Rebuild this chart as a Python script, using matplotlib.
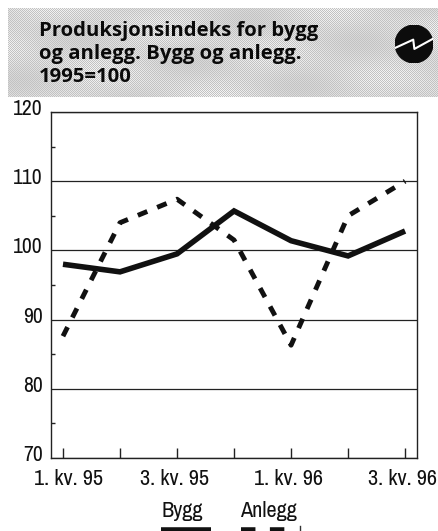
import numpy as np
import matplotlib
matplotlib.use("Agg")
import matplotlib.pyplot as plt
from matplotlib.lines import Line2D
from matplotlib.patches import Circle
from matplotlib.transforms import ScaledTranslation
from matplotlib import font_manager as fm

quarters = ["1. kv. 95", "2. kv. 95", "3. kv. 95", "4. kv. 95", "1. kv. 96", "2. kv. 96", "3. kv. 96"]
bygg = [98.0, 96.9, 99.5, 105.7, 101.4, 99.2, 102.8]
anlegg = [87.6, 104.0, 107.4, 101.5, 86.3, 105.0, 110.0]
y_ticks = [70, 80, 90, 100, 110, 120]
y_minor = [75, 85, 95, 105, 115]
x_labels = ["1. kv. 95", "", "3. kv. 95", "", "1. kv. 96", "", "3. kv. 96"]
title_lines = "Produksjonsindeks for bygg\nog anlegg. Bygg og anlegg.\n1995=100"

names = {f.name for f in fm.fontManager.ttflist}
narrow = next((n for n in ["Liberation Sans Narrow", "Archivo Narrow", "Roboto Condensed", "PT Sans Narrow",
                           "Pragati Narrow", "Roboto"] if n in names), "Liberation Sans")

W, H = 438, 531
fig = plt.figure(figsize=(W / 100, H / 100), dpi=100, facecolor="white")

def fx(x): return x / W
def fy(y): return 1 - y / H

# header band: dithered grey with soft mottling
band = fig.add_axes([fx(8), fy(97), 430 / W, 89 / H], zorder=0)
yy, xx = np.mgrid[0:89, 0:430]
cloud = 0.5 * np.sin(xx / 23.0 + yy / 17.0) + 0.5 * np.sin(xx / 41.0 - yy / 9.0)
checker = ((xx + yy) % 2) * 2 - 1
band.imshow(0.83 + 0.03 * cloud + (0.07 + 0.03 * cloud) * checker, cmap="gray", vmin=0, vmax=1,
            interpolation="nearest", aspect="auto")
band.axis("off")
fig.text(fx(39), fy(54), title_lines, family="Open Sans", weight="bold", fontsize=14.6,
         color="#0a0a0a", ha="left", va="center", linespacing=1.2, zorder=5)

# icon
icon = fig.add_axes([fx(395), fy(63), 38 / W, 38 / H], zorder=2)
icon.set_xlim(-1, 1); icon.set_ylim(-1, 1); icon.axis("off")
icon.add_patch(Circle((0, 0), 0.99, color="#0c0c0c"))
icon.plot([-1.0, -0.04, 0.02, 0.97], [-0.21, 0.23, -0.26, 0.26], color="white", lw=1.5)

# main chart
ax = fig.add_axes([fx(51), fy(458), 365.5 / W, 346 / H], zorder=1)
x = np.arange(len(quarters))
ax.plot(x, anlegg, color="#111111", lw=3.5, dashes=(2.1, 2.2), dash_capstyle="butt", zorder=3)
ax.plot(x, bygg, color="#111111", lw=4, solid_joinstyle="miter", solid_capstyle="butt", zorder=4)
ax.set_xlim(-0.21, 6.2)
ax.set_ylim(70, 120)
ax.set_yticks(y_ticks)
ax.set_yticks(y_minor, minor=True)
ax.set_xticks(x)
ax.set_xticklabels(x_labels, family=narrow, fontsize=16, color="#111111")
ax.set_yticklabels([str(v) for v in y_ticks], family=narrow, fontsize=15.5, color="#111111")
ax.tick_params(axis="x", direction="in", length=7, width=1, pad=8, color="#222222")
ax.tick_params(axis="y", which="major", length=0, pad=6)
ax.tick_params(axis="y", which="minor", direction="in", length=3, width=1, color="#222222")
ax.yaxis.grid(True, color="#222222", lw=0.9)
ax.set_axisbelow(True)
for s in ax.spines.values():
    s.set_linewidth(1.0)
    s.set_color("#222222")

# nudge tick labels to sit as in the source
for lab in ax.get_yticklabels():
    lab.set_transform(lab.get_transform() + ScaledTranslation(0, 5 / 100, fig.dpi_scale_trans))
for i, lab in enumerate(ax.get_xticklabels()):
    dx = 6 if i == 0 else -3
    lab.set_transform(lab.get_transform() + ScaledTranslation(dx / 100, 0, fig.dpi_scale_trans))

# legend, clipped by the bottom edge as in the source
fig.text(fx(182), fy(517), "Bygg", family=narrow, fontsize=16, color="#111111", ha="center", va="baseline")
fig.text(fx(268), fy(517), "Anlegg", family=narrow, fontsize=16, color="#111111", ha="center", va="baseline")
fig.add_artist(Line2D([fx(161), fx(211)], [fy(530), fy(530)], color="#111111", lw=4,
                      transform=fig.transFigure, solid_capstyle="butt"))
fig.add_artist(Line2D([fx(241), fx(297)], [fy(530), fy(530)], color="#111111", lw=4, dashes=(2.6, 2.6),
                      transform=fig.transFigure, dash_capstyle="butt"))
fig.add_artist(Line2D([fx(300), fx(300)], [fy(526), fy(531)], color="#333333", lw=1,
                      transform=fig.transFigure))

fig.savefig("out.png", dpi=100)
